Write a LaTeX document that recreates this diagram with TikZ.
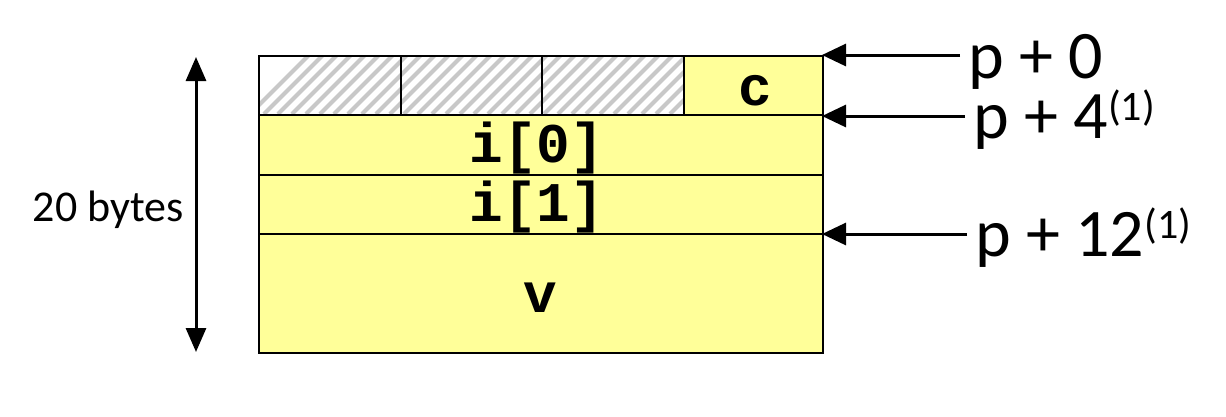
\documentclass[tikz,border=0pt]{standalone}
\usepackage{fontspec}
\setmainfont{Carlito}
\setmonofont{Liberation Mono}
\definecolor{cellyellow}{RGB}{255,255,153}
\definecolor{hatchgray}{RGB}{200,200,200}
\usetikzlibrary{arrows.meta}
\begin{document}
\begin{tikzpicture}[x=1pt,y=-1pt,
  cellline/.style={draw=black,line width=2pt},
  ptr/.style={line width=3pt,-{Triangle[length=24pt,width=22pt]}},
  dim/.style={line width=3pt,{Triangle[length=24pt,width=20pt]}-{Triangle[length=24pt,width=20pt]}},
  fieldlbl/.style={inner sep=0pt,anchor=base,font=\fontsize{56}{56}\selectfont\ttfamily\bfseries},
  offlbl/.style={inner sep=0pt,anchor=base west,text depth=0pt,font=\fontsize{68}{68}\selectfont}
]
\useasboundingbox (0,0) rectangle (1226,416);
% yellow fills
\fill[cellyellow] (683,55) rectangle (822,352);
\fill[cellyellow] (258,114) rectangle (822,352);
% hatched cells
\begin{scope}
  \clip (258,55) rectangle (683,114);
  \fill[white] (258,55) rectangle (683,114);
  \foreach \k in {0,...,36} {
    \draw[hatchgray,line width=4pt] ({250+\k*14},114) -- ({250+\k*14+59},55);
  }
\end{scope}
% cells
\node[cellline,minimum width=142pt,minimum height=59pt,inner sep=0pt,anchor=north west] (h1) at (258,55) {};
\node[cellline,minimum width=141pt,minimum height=59pt,inner sep=0pt,anchor=north west] (h2) at (400,55) {};
\node[cellline,minimum width=142pt,minimum height=59pt,inner sep=0pt,anchor=north west] (h3) at (541,55) {};
\node[cellline,minimum width=139pt,minimum height=59pt,inner sep=0pt,anchor=north west] (cc) at (683,55) {};
\node[cellline,minimum width=564pt,minimum height=60pt,inner sep=0pt,anchor=north west] (i0) at (258,114) {};
\node[cellline,minimum width=564pt,minimum height=59pt,inner sep=0pt,anchor=north west] (i1) at (258,174) {};
\node[cellline,minimum width=564pt,minimum height=119pt,inner sep=0pt,anchor=north west] (vv) at (258,233) {};
% labels
\node[fieldlbl] (lc) at (755,105) {c};
\node[fieldlbl] (li0) at (537,162) {i[0]};
\node[fieldlbl] (li1) at (537,221) {i[1]};
\node[fieldlbl] (lv) at (540,312) {v};
% dimension
\coordinate (dtop) at (196,57);
\coordinate (dbot) at (196,352);
\draw[dim] (dtop) -- (dbot);
\node[inner sep=0pt,anchor=east,font=\fontsize{44}{44}\selectfont] (bytes) at (184,210) {20 bytes};
% offsets
\node[offlbl] (p0) at (968,78) {p + 0};
\node[offlbl] (p4) at (973,138) {p + 4{\fontsize{42}{42}\selectfont\raisebox{18pt}{(1)}}};
\node[offlbl] (p12) at (975,256) {p + 12{\fontsize{42}{42}\selectfont\raisebox{18pt}{(1)}}};
\coordinate (a0) at (822,55);
\coordinate (a4) at (822,116);
\coordinate (a12) at (822,234);
\draw[ptr] (p0.west |- a0) ++(-8,0) -- (a0);
\draw[ptr] (p4.west |- a4) ++(-8,0) -- (a4);
\draw[ptr] (p12.west |- a12) ++(-8,0) -- (a12);
\end{tikzpicture}
\end{document}
